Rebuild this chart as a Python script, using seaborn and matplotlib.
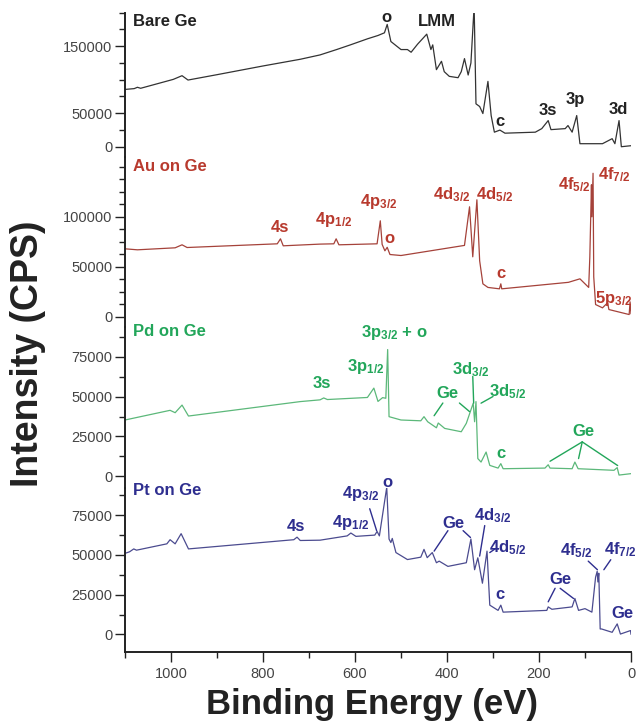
import seaborn as sns
import matplotlib.pyplot as plt
from matplotlib.ticker import MultipleLocator, FixedLocator

# seaborn 스타일을 먼저 정하고 나서 폰트를 바꿔준다.
sns.set_style('ticks')
plt.rcParams['font.family'] = ['Liberation Sans', 'DejaVu Sans']
plt.rcParams['mathtext.fontset'] = 'custom'
plt.rcParams['mathtext.rm'] = 'Liberation Sans:bold'
plt.rcParams['mathtext.it'] = 'Liberation Sans:bold'
plt.rcParams['mathtext.bf'] = 'Liberation Sans:bold'

# XPS survey spectra: binding energy (eV) / intensity (CPS)
bare_be = [1100, 1080, 1073, 1066, 995, 976, 963, 900, 800, 719, 676, 640, 610, 573, 550, 536,
           530, 522, 500, 486, 478, 464, 444, 435, 431, 423, 412, 406, 395, 376, 369, 362, 354,
           348, 341, 337, 329, 322, 311, 304, 297, 285, 274, 208, 194, 180, 174, 143, 137, 128,
           118, 111, 62, 41, 35, 26, 21, 0]
bare_cps = [85500, 86700, 88700, 87200, 100500, 106000, 99500, 107500, 120500, 130500, 137000,
            145000, 152000, 161000, 166000, 170000, 182500, 157000, 145000, 145000, 141000,
            153000, 168000, 145000, 152000, 115000, 127500, 112000, 105000, 103000, 112000,
            131500, 107000, 125000, 210000, 64000, 60000, 49500, 97500, 46500, 21700, 24800,
            20200, 21700, 27000, 39000, 25500, 27000, 31600, 21700, 46500, 4500, 4500, 12000,
            4500, 39000, 0, 1500]

au_be = [1100, 1073, 991, 976, 965, 769, 762, 756, 676, 646, 641, 635, 552, 545, 541, 535, 530,
         524, 500, 362, 351, 344, 335, 329, 322, 311, 286, 283, 281, 136, 111, 92, 89.5, 86,
         85, 82.5, 81, 77, 62, 51, 48, 4, 2, 0]
au_cps = [68000, 67000, 69000, 72000, 69300, 73000, 78000, 71000, 72700, 73000, 78000, 72000,
          73000, 96000, 72400, 66000, 69500, 62300, 61300, 71400, 110000, 60000, 117000, 56000,
          33000, 29400, 28000, 33000, 28000, 34500, 38000, 29400, 60000, 132000, 100000,
          143500, 40000, 12300, 9000, 14000, 7300, 2300, 15000, 3000]

pd_be = [1100, 1002, 991, 976, 962, 719, 676, 668, 660, 573, 559, 550, 540, 533, 529, 526, 500,
         457, 450, 442, 423, 419, 405, 369, 358, 343, 340, 337, 333, 326, 315, 307, 289, 283,
         278, 187, 180, 176, 128, 122, 115, 37, 30, 26, 0]
pd_cps = [35300, 41400, 39900, 44700, 37800, 46900, 48000, 49200, 48200, 49500, 55400, 47000,
          49400, 49000, 79700, 37400, 35300, 34800, 37400, 34200, 30400, 33400, 30000, 27900,
          33200, 45900, 34200, 46900, 11000, 8800, 15100, 6700, 5000, 7800, 4600, 5000, 7100,
          5000, 4600, 8800, 4600, 3600, 5300, 600, 1500]

pt_be = [1100, 1090, 1081, 1075, 1009, 1002, 991, 978, 962, 733, 726, 719, 676, 617, 609, 598,
         557, 552, 547, 531, 526, 522, 519, 511, 486, 457, 450, 443, 432, 423, 417, 398, 358,
         348, 340, 333, 323, 313, 307, 289, 283, 278, 183, 180, 172, 128, 122, 114, 100, 85,
         77, 73.5, 72, 70, 67, 64, 41, 30, 23, 1, 0]
pt_cps = [51000, 52000, 53800, 53000, 57000, 59600, 57000, 63400, 53800, 59600, 61200, 59100,
          59300, 62000, 63800, 61700, 62500, 64800, 62000, 92600, 60000, 57800, 60400, 51500,
          47100, 48600, 53500, 48300, 51500, 45100, 46100, 42800, 45100, 60000, 40700, 48200,
          32200, 52400, 18400, 15100, 18400, 14000, 15100, 17300, 15800, 17300, 22600, 15100,
          16200, 14000, 36000, 39700, 33000, 38500, 3400, 3400, 1300, 6600, 200, 2400, 0]

# peak labels: (text, eV, CPS)
bare_labels = [('o', 531, 193000), ('LMM', 423, 187000), ('c', 284, 37000),
               ('3s', 180, 54000), ('3p', 120, 70000), ('3d', 28, 55000)]
au_labels = [('4s', 764, 89000), ('4p$_{1/2}$', 646, 97000), ('4p$_{3/2}$', 548, 115000),
             ('o', 526, 78000), ('4d$_{3/2}$', 391, 122000), ('4d$_{5/2}$', 297, 122000),
             ('c', 283, 43000), ('4f$_{5/2}$', 124, 132000), ('4f$_{7/2}$', 37, 142000),
             ('5p$_{3/2}$', 37, 18000)]
pd_labels = [('3s', 672, 58600), ('3p$_{1/2}$', 576, 69300), ('3p$_{3/2}$ + o', 515, 90300),
             ('Ge', 398, 52300), ('3d$_{3/2}$', 348, 67000), ('3d$_{5/2}$', 268, 53200),
             ('c', 283, 14000), ('Ge', 103, 27900)]
pt_labels = [('4s', 728, 67600), ('4p$_{1/2}$', 610, 70600), ('4p$_{3/2}$', 588, 88700),
             ('o', 530, 95500), ('Ge', 385, 69500), ('4d$_{3/2}$', 300, 74900),
             ('4d$_{5/2}$', 268, 54700), ('c', 284, 24800), ('Ge', 154, 34300),
             ('4f$_{5/2}$', 118, 52400), ('4f$_{7/2}$', 23, 53500), ('Ge', 19, 13000)]

# leader lines: (eV0, CPS0, eV1, CPS1)
pd_leaders = [(409, 46000, 428, 38000), (373, 46000, 351, 40600), (344, 62800, 342, 45900),
              (300, 50100, 326, 45900), (106, 21500, 176, 9300), (106, 21500, 114, 11000),
              (106, 21500, 29, 6600)]
pt_leaders = [(568, 79100, 553, 65300), (398, 65300, 428, 52400), (365, 65300, 349, 61000),
              (318, 68500, 329, 49300), (297, 53500, 307, 51500), (165, 29000, 180, 20500),
              (154, 29000, 125, 22600), (93, 46100, 73, 40700), (44, 47000, 59, 40700)]

names = ['Bare Ge', 'Au on Ge', 'Pd on Ge', 'Pt on Ge']
name_cps = [187000, 150700, 91200, 90700]
line_colors = ['#333333', '#a5423a', '#5cb87a', '#4b4b8f']
text_colors = ['#222222', '#b83a2e', '#22a65a', '#2e2e8f']

ylims = [(-15000, 200000), (-10000, 160000), (-7500, 94000), (-11100, 92200)]
major_ticks = [[0, 50000, 150000], [0, 50000, 100000], [0, 25000, 50000, 75000],
               [0, 25000, 50000, 75000]]
minor_steps = [25000, 12500, 12500, 12500]
heights = [144, 170, 161, 164]

spectra = [(bare_be, bare_cps), (au_be, au_cps), (pd_be, pd_cps), (pt_be, pt_cps)]
labels = [bare_labels, au_labels, pd_labels, pt_labels]
leaders = [[], [], pd_leaders, pt_leaders]

fig, axes = plt.subplots(4, 1, figsize=(6.36, 7.23), dpi=100, sharex=True,
                         gridspec_kw=dict(height_ratios=heights, hspace=0))
fig.subplots_adjust(left=125 / 636, right=631 / 636, top=1 - 12.7 / 723, bottom=1 - 652 / 723)

for i, ax in enumerate(axes):
    be, cps = spectra[i]
    sns.lineplot(x=be, y=cps, ax=ax, color=line_colors[i], lw=0.9, estimator=None)
    ax.patch.set_visible(False)
    ax.set_ylim(*ylims[i])
    ax.set_xlim(1100, 0)
    ax.yaxis.set_major_locator(FixedLocator(major_ticks[i]))
    ax.yaxis.set_minor_locator(MultipleLocator(minor_steps[i]))
    ax.set_ylabel('')
    for s in ['top', 'right']:
        ax.spines[s].set_visible(False)
    ax.spines['left'].set_linewidth(1.4)
    ax.spines['left'].set_color('#222222')
    ax.tick_params(axis='y', which='major', length=7, width=1, labelsize=10.5,
                   colors='#222222', labelcolor='#444444', pad=2)
    ax.tick_params(axis='y', which='minor', length=4, width=1, color='#222222')
    if i < 3:
        ax.spines['bottom'].set_visible(False)
        ax.tick_params(axis='x', which='both', bottom=False, labelbottom=False)

    ax.text(1082, name_cps[i], names[i], color=text_colors[i], fontsize=12,
            fontweight='bold', ha='left', va='center')
    for txt, x, y in labels[i]:
        ax.text(x, y, txt, color=text_colors[i], fontsize=12, fontweight='bold',
                ha='center', va='center', clip_on=False)
    for x0, y0, x1, y1 in leaders[i]:
        ax.plot([x0, x1], [y0, y1], color=text_colors[i], lw=1)

ax = axes[-1]
ax.spines['bottom'].set_linewidth(1.4)
ax.spines['bottom'].set_color('#222222')
ax.xaxis.set_major_locator(MultipleLocator(200))
ax.xaxis.set_minor_locator(MultipleLocator(100))
ax.tick_params(axis='x', which='major', length=7, width=1, labelsize=10.5,
               colors='#222222', labelcolor='#444444', pad=4)
ax.tick_params(axis='x', which='minor', length=4, width=1, color='#222222')

fig.text(372 / 636, 2 / 723, 'Binding Energy (eV)', fontsize=25, fontweight='bold',
         color='#222222', ha='center', va='bottom')
fig.text(28 / 636, 1 - 354 / 723, 'Intensity (CPS)', fontsize=27, fontweight='bold',
         color='#222222', ha='center', va='center', rotation=90)

plt.savefig('out.png', dpi=100)
